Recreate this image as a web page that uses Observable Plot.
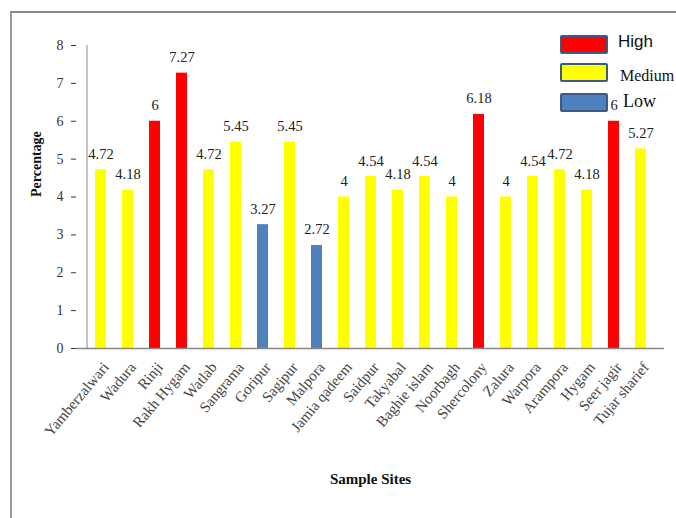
<!DOCTYPE html>
<html>
<head>
<meta charset="utf-8">
<script src="https://cdn.jsdelivr.net/npm/d3@7"></script>
<script src="https://cdn.jsdelivr.net/npm/@observablehq/plot@0.6"></script>
<style>
  html, body { margin: 0; padding: 0; background: #fff; overflow: hidden; }
  #wrap { position: relative; width: 676px; height: 518px; overflow: hidden; }
  #frame { position: absolute; left: 10px; top: 11px; width: 680px; height: 520px;
           border-top: 2px solid #8a8a8a; border-left: 2px solid #9a9a9a; box-sizing: border-box; }
  #legend { position: absolute; left: 560px; top: 35px; font-family: 'Liberation Serif', serif; }
  .item { position: absolute; left: 0; white-space: nowrap; }
  .sw { position: absolute; left: 0; width: 44px; height: 15px; border: 2px solid #3b5a86; border-radius: 2px; }
  .lb { position: absolute; color: #111; }
</style>
</head>
<body>
<div id="wrap">
  <div id="frame"></div>
  <div id="chart"></div>
  <div id="legend"></div>
</div>
<script>
const sites = ["Yamberzalwari","Wadura","Rinji","Rakh Hygam","Watlab","Sangrama","Goripur","Sagipur","Malpora","Jamia qadeem","Saidpur","Takyabal","Baghie islam","Noorbagh","Shercolony","Zalura","Warpora","Arampora","Hygam","Seer jagir","Tujar sharief"];
const values = [4.72,4.18,6,7.27,4.72,5.45,3.27,5.45,2.72,4,4.54,4.18,4.54,4,6.18,4,4.54,4.72,4.18,6,5.27];
const levels = ["Medium","Medium","High","High","Medium","Medium","Low","Medium","Low","Medium","Medium","Medium","Medium","Medium","High","Medium","Medium","Medium","Medium","High","Medium"];
const legendNames = ["High","Medium","Low"];
const legendColors = ["#ff0000","#ffff00","#4f81bd"];
const yTicks = [0,1,2,3,4,5,6,7,8];

const data = sites.map((s, i) => ({site: s, value: values[i], level: levels[i]}));
const serif = "'Liberation Serif', 'Times New Roman', serif";

const chart = Plot.plot({
  width: 676,
  height: 518,
  marginTop: 45,
  marginBottom: 170,
  marginLeft: 76,
  marginRight: 12,
  style: {background: "transparent", fontFamily: serif},
  x: {domain: sites, padding: 0.6},
  y: {domain: [0, 8]},
  marks: [
    Plot.barY(data, {x: "site", y: "value", fill: d => legendColors[legendNames.indexOf(d.level)]}),
    Plot.text(data, {x: "site", y: "value", text: d => String(d.value), lineAnchor: "bottom", dy: -11,
      fontSize: 14.5, fill: "#222", fontFamily: serif}),
    Plot.axisY({ticks: yTicks, tickSize: 5, tickPadding: 8, label: null, fontSize: 14, color: "#333", fontFamily: serif}),
    Plot.ruleX([0], {x: () => sites[0], dx: -14, y1: 0, y2: 8, stroke: "#888"}),
    Plot.ruleY([0], {stroke: "#888", strokeWidth: 1.5}),
    Plot.axisX({tickSize: 0, tickRotate: -50, tickPadding: 16, dx: 5, label: null, fontSize: 15, color: "#444", fontFamily: serif}),
    Plot.text(["Percentage"], {frameAnchor: "left", dx: -40, rotate: -90, fontWeight: "bold", fontSize: 14, fill: "#111", fontFamily: serif}),
    Plot.text(["Sample Sites"], {frameAnchor: "bottom", dy: 135, fontWeight: "bold", fontSize: 15, fill: "#111", fontFamily: serif})
  ]
});
document.getElementById("chart").appendChild(chart);

const leg = document.getElementById("legend");
const tops = [0, 28, 58];
const labelCfg = [
  {left: 58, top: -3, font: "'Liberation Sans', sans-serif", size: 17},
  {left: 60, top: 4, font: serif, size: 16},
  {left: 63, top: -2, font: serif, size: 18}
];
legendNames.forEach((n, i) => {
  const it = document.createElement("div");
  it.className = "item";
  it.style.top = tops[i] + "px";
  const sw = document.createElement("div");
  sw.className = "sw";
  sw.style.background = legendColors[i];
  const lb = document.createElement("div");
  lb.className = "lb";
  lb.textContent = n;
  lb.style.left = labelCfg[i].left + "px";
  lb.style.top = labelCfg[i].top + "px";
  lb.style.fontFamily = labelCfg[i].font;
  lb.style.fontSize = labelCfg[i].size + "px";
  it.appendChild(sw);
  it.appendChild(lb);
  leg.appendChild(it);
});
</script>
</body>
</html>
